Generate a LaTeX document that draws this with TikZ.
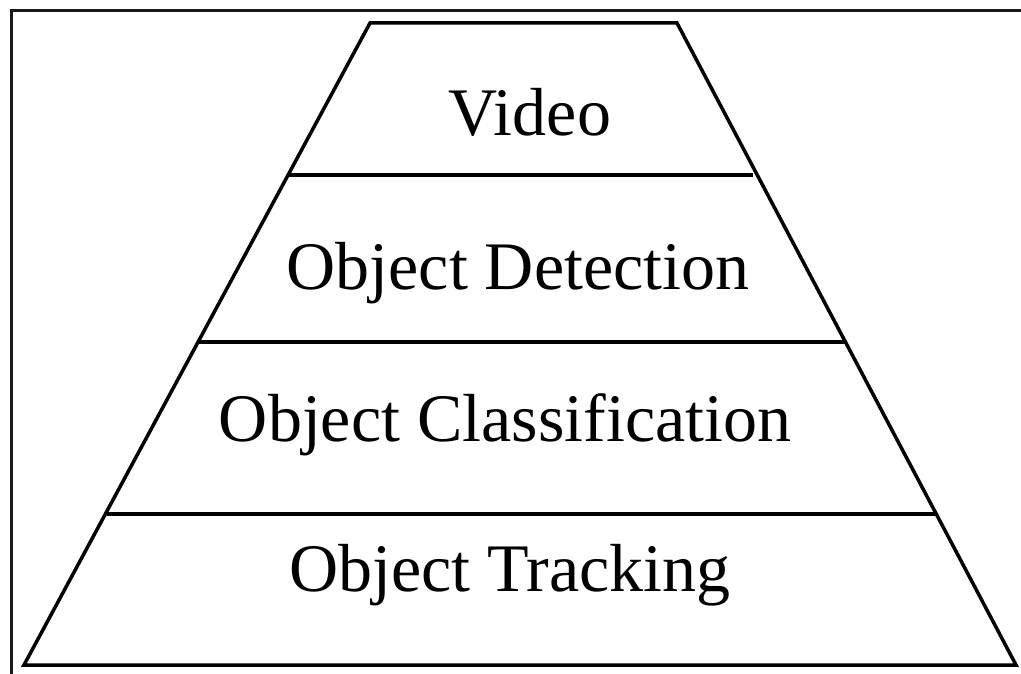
\documentclass[tikz,border=0pt]{standalone}
\usepackage{fontspec}
\setmainfont{Liberation Serif}
\begin{document}
\begin{tikzpicture}[x=1pt,y=-1pt,
  frameline/.style={line width=3pt,black!90},
  layerline/.style={line width=3.5pt,black},
  layerlabel/.style={font=\fontsize{68}{70}\selectfont,inner sep=0pt,anchor=base}]
\useasboundingbox (0,0) rectangle (1021,674);
% outer frame (top and left edges)
\draw[frameline] (11,674) -- (11,11) -- (1021,11);
% pyramid outline
\draw[layerline,line join=miter] (370,23) -- (677,23) -- (1016,665) -- (24,665) -- cycle;
% layer dividers
\draw[layerline] (289,175) -- (753,175);
\draw[layerline] (199,342) -- (846,342);
\draw[layerline] (107,514) -- (935,514);
% layer labels
\node[layerlabel] (video) at (530,136) {Video};
\node[layerlabel] (detect) at (518,289) {Object Detection};
\node[layerlabel] (classify) at (505,441) {Object Classification};
\node[layerlabel] (track) at (510,591) {Object Tracking};
\end{tikzpicture}
\end{document}
